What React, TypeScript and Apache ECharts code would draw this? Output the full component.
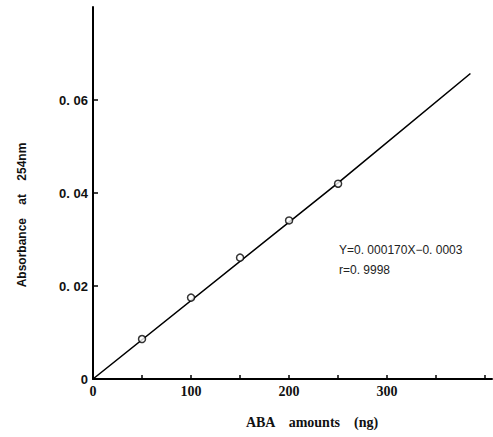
import React, { useEffect, useRef } from "react";
import * as echarts from "echarts";

const pointX = [50, 100, 150, 200, 250];
const pointY = [0.0086, 0.0175, 0.0261, 0.0341, 0.042];
const fitX = [0, 250, 385];
const fitY = [0, 0.0422, 0.0657];
const xTickLabels = [0, 100, 200, 300];
const yTickLabels: Record<string, string> = { "0": "0", "0.02": "0. 02", "0.04": "0. 04", "0.06": "0. 06" };
const xName = "ABA    amounts    (ng)";
const yName = "Absorbance    at    254nm";
const equation = "Y=0. 000170X\u22120. 0003";
const rValue = "r=0. 9998";

export default function App() {
  const ref = useRef<HTMLDivElement>(null);
  useEffect(() => {
    document.body.style.margin = "0";
    const chart = echarts.init(ref.current!, null, { renderer: "svg" });
    chart.setOption({
      animation: false,
      backgroundColor: "#ffffff",
      grid: { left: 93, right: 1, top: 7, bottom: 58, containLabel: false },
      xAxis: {
        type: "value",
        min: 0,
        max: 407,
        interval: 50,
        axisLine: { lineStyle: { color: "#000", width: 2 } },
        axisTick: { inside: true, length: 4, lineStyle: { color: "#000", width: 1.5 } },
        splitLine: { show: false },
        axisLabel: {
          margin: 5,
          showMaxLabel: false,
          fontFamily: "Liberation Serif",
          fontWeight: "bold",
          fontSize: 14,
          color: "#111",
          formatter: (v: number) => (xTickLabels.includes(v) ? String(v) : ""),
        },
      },
      yAxis: {
        type: "value",
        min: 0,
        max: 0.08,
        interval: 0.02,
        axisLine: { lineStyle: { color: "#000", width: 2 } },
        axisTick: { inside: true, length: 5, lineStyle: { color: "#000", width: 1.5 } },
        splitLine: { show: false },
        axisLabel: {
          margin: 5,
          showMaxLabel: false,
          fontFamily: "Liberation Sans",
          fontWeight: "bold",
          fontSize: 13,
          color: "#111",
          formatter: (v: number) => yTickLabels[String(Math.round(v * 100) / 100)] ?? "",
        },
      },
      series: [
        {
          type: "line",
          data: fitX.map((x, i) => [x, fitY[i]]),
          showSymbol: false,
          lineStyle: { color: "#000", width: 1.6 },
          z: 2,
        },
        {
          type: "scatter",
          data: pointX.map((x, i) => [x, pointY[i]]),
          symbol: "circle",
          symbolSize: 7,
          itemStyle: { color: "#fff", borderColor: "#000", borderWidth: 1.5 },
          z: 3,
        },
      ],
      graphic: [
        {
          type: "text",
          x: 22,
          y: 215,
          rotation: Math.PI / 2,
          style: {
            text: yName,
            fontFamily: "Liberation Sans",
            fontWeight: "bold",
            fontSize: 12,
            fill: "#111",
            align: "center",
            verticalAlign: "middle",
          },
        },
        {
          type: "text",
          x: 312,
          y: 422,
          style: {
            text: xName,
            fontFamily: "Liberation Serif",
            fontWeight: "bold",
            fontSize: 14,
            fill: "#111",
            align: "center",
            verticalAlign: "middle",
          },
        },
        {
          type: "text",
          x: 339,
          y: 250,
          style: {
            text: equation,
            fontFamily: "Liberation Sans",
            fontSize: 12,
            fill: "#222",
            align: "left",
            verticalAlign: "middle",
          },
        },
        {
          type: "text",
          x: 339,
          y: 270,
          style: {
            text: rValue,
            fontFamily: "Liberation Sans",
            fontSize: 12,
            fill: "#222",
            align: "left",
            verticalAlign: "middle",
          },
        },
      ],
    });
    return () => chart.dispose();
  }, []);
  return <div ref={ref} style={{ width: 493, height: 437 }} />;
}
